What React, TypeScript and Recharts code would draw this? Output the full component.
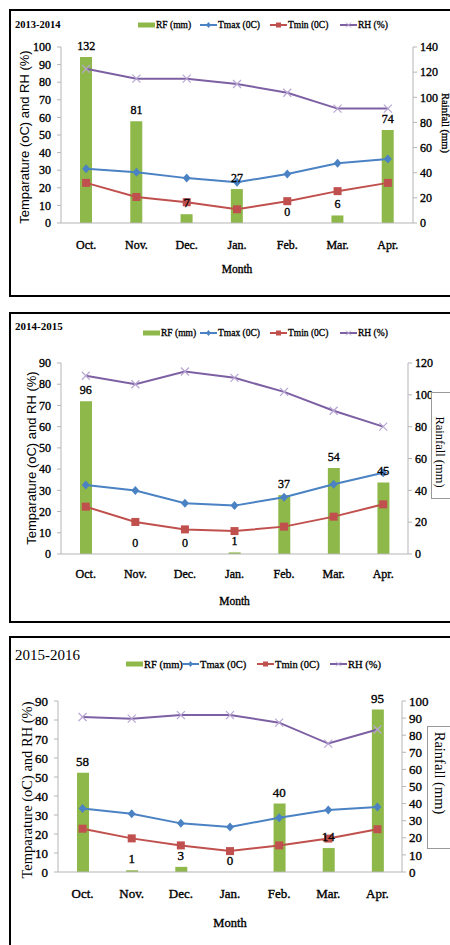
import React from "react";
import { ComposedChart, Bar, Line, XAxis, YAxis, LabelList } from "recharts";

const months = ["Oct.", "Nov.", "Dec.", "Jan.", "Feb.", "Mar.", "Apr."];

// 2013-2014
const rf1 = [132, 81, 7, 27, 0, 6, 74];
const tmax1 = [30.8, 28.9, 25.5, 23.2, 27.8, 34, 36.3];
const tmin1 = [22.8, 14.8, 11.8, 7.8, 12.4, 18.1, 22.8];
const rh1 = [87.6, 82, 82, 79, 74, 65, 65];

// 2014-2015
const rf2 = [96, 0, 0, 1, 37, 54, 45];
const tmax2 = [32.5, 29.9, 23.9, 22.8, 26.7, 32.9, 38.3];
const tmin2 = [22.3, 15.1, 11.6, 10.8, 12.9, 17.6, 23.4];
const rh2 = [84, 80, 86, 83, 76.4, 67.5, 60];

// 2015-2016
const rf3 = [58, 1, 3, 0, 40, 14, 95];
const tmax3 = [33.4, 30.7, 25.6, 23.7, 28.6, 32.6, 34.2];
const tmin3 = [22.8, 17.7, 14, 11, 14, 17.6, 22.5];
const rh3 = [81.6, 80.7, 82.6, 82.6, 78.6, 67.6, 75];

const leftTicks1 = [0, 10, 20, 30, 40, 50, 60, 70, 80, 90, 100];
const rightTicks1 = [0, 20, 40, 60, 80, 100, 120, 140];
const leftTicks2 = [0, 10, 20, 30, 40, 50, 60, 70, 80, 90];
const rightTicks2 = [0, 20, 40, 60, 80, 100, 120];
const leftTicks3 = [0, 10, 20, 30, 40, 50, 60, 70, 80, 90];
const rightTicks3 = [0, 10, 20, 30, 40, 50, 60, 70, 80, 90, 100];

const legendNames = ["RF (mm)", "Tmax (0C)", "Tmin (0C)", "RH (%)"];

const GREEN = "#8fb84a";
const BLUE = "#4a82c3";
const RED = "#c0504d";
const PURPLE = "#7d60a3";
const PURPLE_MARK = "#b8a6d3";
const AXIS = "#b5b5b5";
const SERIF = "'Liberation Serif', 'Times New Roman', serif";
const SANS = "'Liberation Sans', Arial, sans-serif";

const Diamond = (props: any) => {
  const { cx, cy, index } = props;
  if (cx == null || cy == null) return <g key={index} />;
  return (
    <path
      key={index}
      d={`M${cx},${cy - 4.5}L${cx + 4},${cy}L${cx},${cy + 4.5}L${cx - 4},${cy}Z`}
      fill={BLUE}
    />
  );
};

const Square = (props: any) => {
  const { cx, cy, index } = props;
  if (cx == null || cy == null) return <g key={index} />;
  return <rect key={index} x={cx - 4} y={cy - 4} width={8} height={8} fill={RED} />;
};

const Cross = (props: any) => {
  const { cx, cy, index } = props;
  if (cx == null || cy == null) return <g key={index} />;
  return (
    <g key={index} stroke={PURPLE_MARK} strokeWidth={1.2}>
      <line x1={cx - 4} y1={cy - 4} x2={cx + 4} y2={cy + 4} />
      <line x1={cx - 4} y1={cy + 4} x2={cx + 4} y2={cy - 4} />
    </g>
  );
};

type PanelProps = {
  title: string;
  rf: number[];
  tmax: number[];
  tmin: number[];
  rh: number[];
  leftTicks: number[];
  rightTicks: number[];
  top: number;
  height: number;
  plotTop: number;
  plotBottom: number;
  plotLeft: number;
  plotRight: number;
  titleSize: number;
  titleBold: boolean;
  titleY: number;
  legendY: number;
  legendX: number[];
  legendSize: number;
  leftTitle: { x: number; y: number; size: number; font: string };
  rightTitle: { x: number; y: number; size: number; box?: { x: number; y: number; h: number } };
  monthY: number;
  monthSize: number;
  tickSize: number;
  xTickGap: number;
};

const LegendSymbol = ({ i }: { i: number }) => {
  if (i === 0) return <svg width={17} height={8}><rect x={0} y={1.5} width={17} height={5} fill={GREEN} /></svg>;
  const color = i === 1 ? BLUE : i === 2 ? RED : PURPLE;
  return (
    <svg width={17} height={8}>
      <line x1={0} y1={4} x2={17} y2={4} stroke={color} strokeWidth={2} />
      {i === 1 && <path d="M8.5,1L11,4L8.5,7L6,4Z" fill={BLUE} />}
      {i === 2 && <rect x={6} y={1.5} width={5} height={5} fill={RED} />}
      {i === 3 && (
        <g stroke={PURPLE_MARK} strokeWidth={1}>
          <line x1={6} y1={1.5} x2={11} y2={6.5} />
          <line x1={6} y1={6.5} x2={11} y2={1.5} />
        </g>
      )}
    </svg>
  );
};

const YearPanel = (p: PanelProps) => {
  const data = months.map((m, i) => ({
    month: m,
    rf: p.rf[i],
    tmax: p.tmax[i],
    tmin: p.tmin[i],
    rh: p.rh[i],
  }));
  const bottom = p.top + p.height;
  // regular face with a thin outline, to get the heavy look without widening the glyphs
  const tickStyle = {
    fontFamily: SERIF,
    fontSize: p.tickSize,
    fill: "#000",
    stroke: "#000",
    strokeWidth: 0.35,
  };

  return (
    <>
      <div
        style={{
          position: "absolute",
          left: 9,
          top: p.top - 1,
          width: 470,
          height: p.height - 2,
          border: "2px solid #000",
        }}
      />
      <div style={{ position: "absolute", left: 0, top: p.top }}>
        <ComposedChart
          width={450}
          height={p.height}
          data={data}
          margin={{ top: p.plotTop - p.top, right: 0, left: 0, bottom: 0 }}
          barCategoryGap={0}
        >
          <XAxis
            dataKey="month"
            height={bottom - p.plotBottom}
            stroke={AXIS}
            tickLine={false}
            tickSize={0}
            tickMargin={p.xTickGap}
            tick={tickStyle}
            interval={0}
          />
          <YAxis
            yAxisId="left"
            width={p.plotLeft}
            domain={[p.leftTicks[0], p.leftTicks[p.leftTicks.length - 1]]}
            ticks={p.leftTicks}
            interval={0}
            stroke={AXIS}
            tickSize={4}
            tickMargin={6}
            tick={tickStyle}
          />
          <YAxis
            yAxisId="right"
            orientation="right"
            width={450 - p.plotRight}
            domain={[p.rightTicks[0], p.rightTicks[p.rightTicks.length - 1]]}
            ticks={p.rightTicks}
            interval={0}
            stroke={AXIS}
            tickSize={4}
            tickMargin={3}
            tick={tickStyle}
          />
          <Bar yAxisId="right" dataKey="rf" fill={GREEN} barSize={12} isAnimationActive={false} />
          <Line
            yAxisId="left"
            dataKey="rh"
            stroke={PURPLE}
            strokeWidth={2}
            dot={Cross}
            isAnimationActive={false}
          />
          <Line
            yAxisId="left"
            dataKey="tmax"
            stroke={BLUE}
            strokeWidth={2}
            dot={Diamond}
            isAnimationActive={false}
          />
          <Line
            yAxisId="left"
            dataKey="tmin"
            stroke={RED}
            strokeWidth={2}
            dot={Square}
            isAnimationActive={false}
          />
          {/* invisible series carrying the rainfall value labels, so zero months get one too */}
          <Line
            yAxisId="right"
            dataKey="rf"
            stroke="none"
            dot={false}
            activeDot={false}
            legendType="none"
            isAnimationActive={false}
          >
            <LabelList dataKey="rf" position="top" offset={7} style={tickStyle} />
          </Line>
        </ComposedChart>
      </div>

      <div
        style={{
          position: "absolute",
          left: 15,
          top: p.titleY,
          transform: "translateY(-50%)",
          fontFamily: SERIF,
          fontSize: p.titleSize,
          fontWeight: p.titleBold ? 700 : 400,
          lineHeight: 1,
        }}
      >
        {p.title}
      </div>

      {legendNames.map((name, i) => (
        <div
          key={name}
          style={{
            position: "absolute",
            left: p.legendX[i],
            top: p.legendY - 6,
            height: 12,
            display: "flex",
            alignItems: "center",
            fontFamily: SERIF,
            fontSize: p.legendSize,
            WebkitTextStroke: "0.3px #000",
            whiteSpace: "nowrap",
          }}
        >
          <LegendSymbol i={i} />
          <span style={{ marginLeft: 1 }}>{name}</span>
        </div>
      ))}

      <div
        style={{
          position: "absolute",
          left: p.leftTitle.x,
          top: p.leftTitle.y,
          transform: "translate(-50%, -50%) rotate(-90deg)",
          fontFamily: p.leftTitle.font,
          fontSize: p.leftTitle.size,
          whiteSpace: "nowrap",
          lineHeight: 1,
        }}
      >
        Temparature (oC) and RH (%)
      </div>

      {p.rightTitle.box && (
        <div
          style={{
            position: "absolute",
            left: p.rightTitle.box.x,
            top: p.rightTitle.box.y,
            width: 40,
            height: p.rightTitle.box.h,
            border: "1px solid #9a9a9a",
            background: "#fff",
          }}
        />
      )}
      <div
        style={{
          position: "absolute",
          left: p.rightTitle.x,
          top: p.rightTitle.y,
          transform: "translate(-50%, -50%) rotate(90deg)",
          fontFamily: SERIF,
          fontSize: p.rightTitle.size,
          WebkitTextStroke: p.rightTitle.box ? "0" : "0.3px #000",
          whiteSpace: "nowrap",
          lineHeight: 1,
        }}
      >
        Rainfall (mm)
      </div>

      <div
        style={{
          position: "absolute",
          left: (p.plotLeft + p.plotRight) / 2,
          top: p.monthY,
          transform: "translate(-50%, -50%)",
          fontFamily: SERIF,
          fontSize: p.monthSize,
          WebkitTextStroke: "0.35px #000",
          lineHeight: 1,
        }}
      >
        Month
      </div>
    </>
  );
};

export default function App() {
  return (
    <div
      style={{
        position: "absolute",
        left: 0,
        top: 0,
        width: 450,
        height: 945,
        overflow: "hidden",
        background: "#fff",
      }}
    >
      <YearPanel
        title="2013-2014"
        rf={rf1}
        tmax={tmax1}
        tmin={tmin1}
        rh={rh1}
        leftTicks={leftTicks1}
        rightTicks={rightTicks1}
        top={10}
        height={286}
        plotTop={47}
        plotBottom={223}
        plotLeft={61}
        plotRight={413}
        titleSize={10.5}
        titleBold
        titleY={25}
        legendY={25}
        legendX={[138, 200, 270, 340]}
        legendSize={9.5}
        leftTitle={{ x: 24, y: 137, size: 13, font: SANS }}
        rightTitle={{ x: 444.5, y: 123, size: 10.5 }}
        monthY={270}
        monthSize={11.5}
        tickSize={12}
        xTickGap={17}
      />
      <YearPanel
        title="2014-2015"
        rf={rf2}
        tmax={tmax2}
        tmin={tmin2}
        rh={rh2}
        leftTicks={leftTicks2}
        rightTicks={rightTicks2}
        top={313}
        height={309}
        plotTop={363}
        plotBottom={554}
        plotLeft={61}
        plotRight={408}
        titleSize={11}
        titleBold
        titleY={326}
        legendY={333}
        legendX={[143, 200, 270, 340]}
        legendSize={9.5}
        leftTitle={{ x: 31, y: 458, size: 13, font: SANS }}
        rightTitle={{ x: 440, y: 452, size: 12.5, box: { x: 431, y: 392, h: 105 } }}
        monthY={602}
        monthSize={11.5}
        tickSize={12}
        xTickGap={15}
      />
      <YearPanel
        title="2015-2016"
        rf={rf3}
        tmax={tmax3}
        tmin={tmin3}
        rh={rh3}
        leftTicks={leftTicks3}
        rightTicks={rightTicks3}
        top={637}
        height={320}
        plotTop={701}
        plotBottom={872}
        plotLeft={58}
        plotRight={402}
        titleSize={15}
        titleBold={false}
        titleY={655}
        legendY={664}
        legendX={[126, 182, 257, 330]}
        legendSize={10.5}
        leftTitle={{ x: 27, y: 790, size: 14.5, font: SERIF }}
        rightTitle={{ x: 440, y: 773, size: 14.5, box: { x: 427, y: 726, h: 121 } }}
        monthY={923}
        monthSize={12.5}
        tickSize={13}
        xTickGap={17}
      />
    </div>
  );
}
